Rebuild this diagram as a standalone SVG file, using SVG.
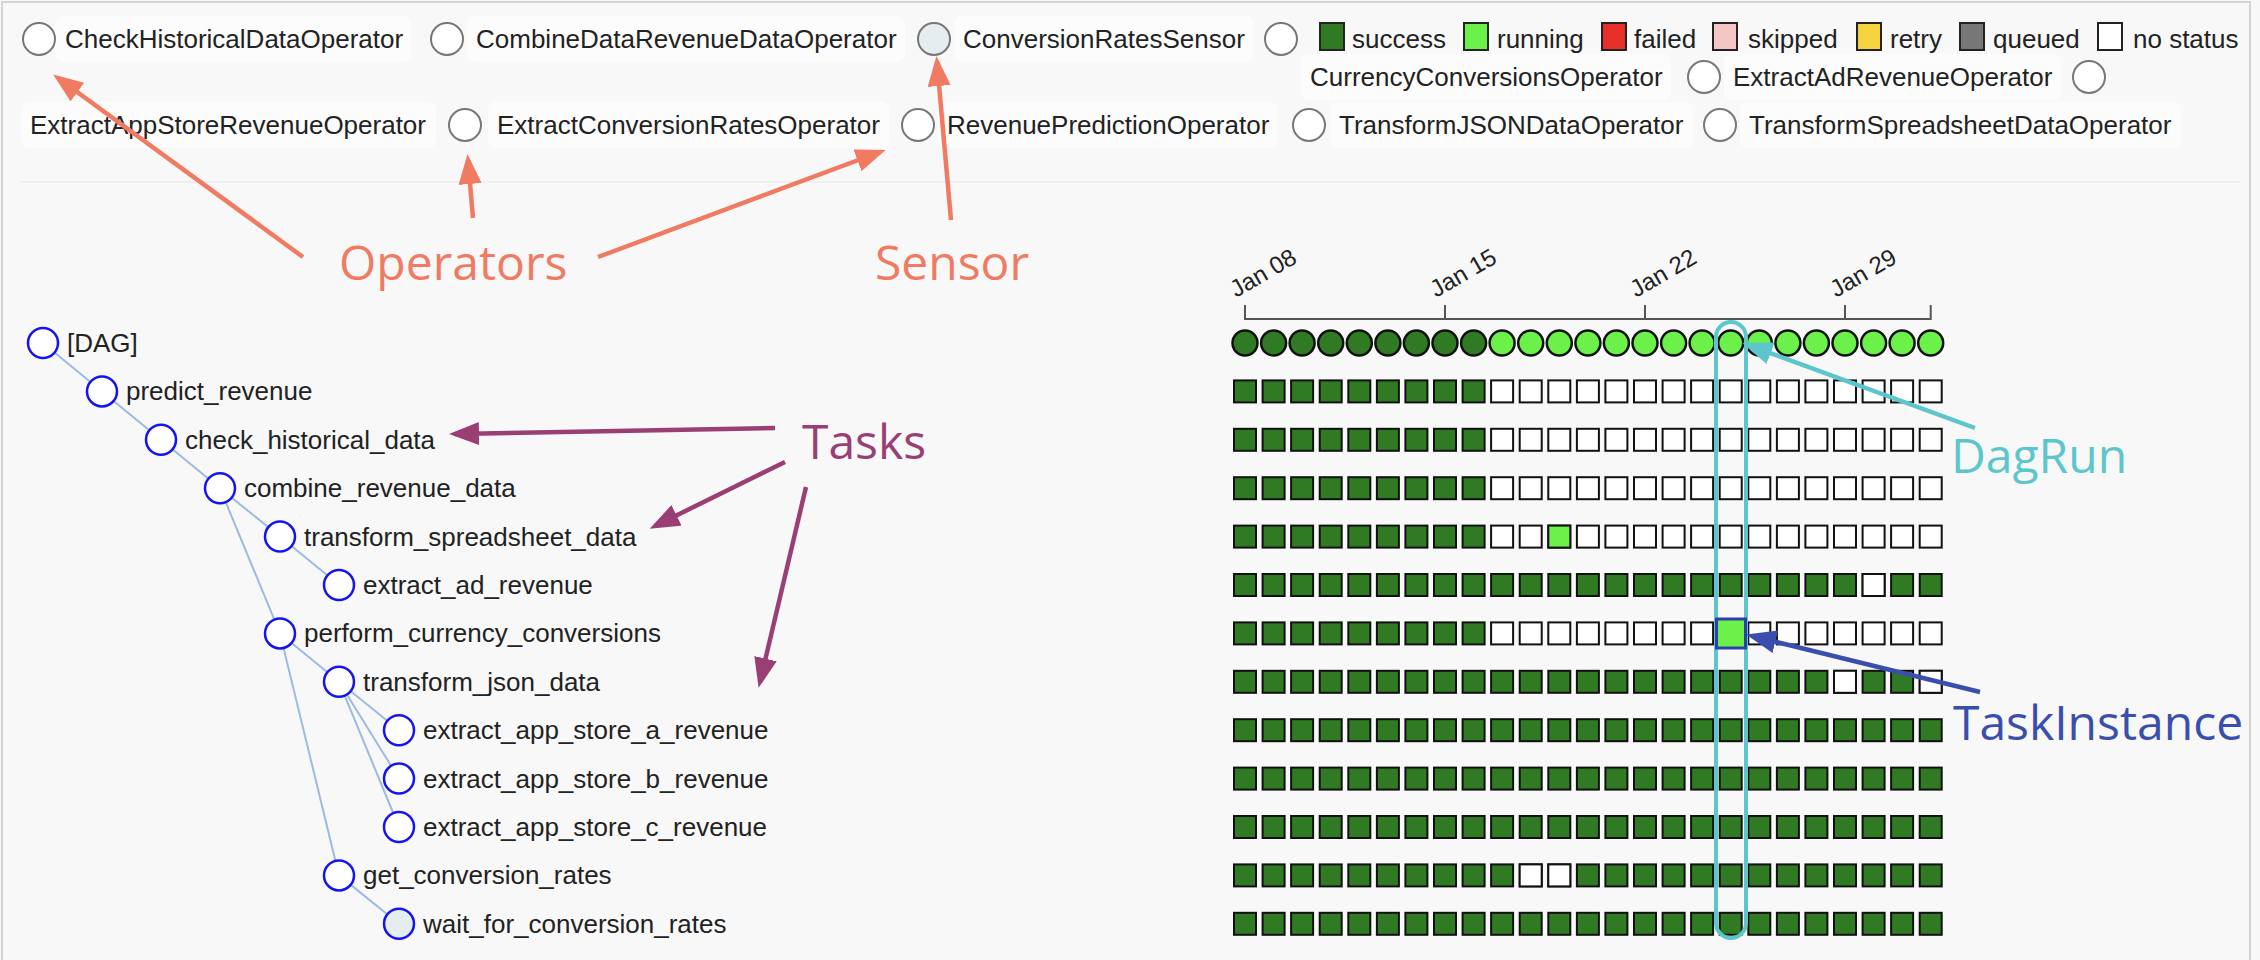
<svg xmlns="http://www.w3.org/2000/svg" xmlns:xlink="http://www.w3.org/1999/xlink" width="2260" height="960" viewBox="0 0 2260 960">
<style>
.t{font-family:"Liberation Sans",Arial,Helvetica,sans-serif;font-size:26px;fill:#222}
.ax{font-family:"Liberation Sans",Arial,Helvetica,sans-serif;font-size:24px;fill:#222}
.ann{font-family:"Open Sans","Noto Sans",sans-serif;font-size:48px}
.box{fill:#fcfcfc}
.op{fill:#fff;stroke:#777;stroke-width:2}
.sens{fill:#e6edf0}
.lg{stroke:#222;stroke-width:2}
.tn{fill:#fff;stroke:#1414f0;stroke-width:2.5}
.tl{stroke:#9bbbe0;stroke-width:2;fill:none}
.cell{stroke:#111;stroke-width:2}
.ok{fill:#2f7a22}
.run{fill:#6cf04a}
.no{fill:#fff}
.dr{stroke:#111;stroke-width:2.5}
.arr{fill:none;stroke-width:4.5}
</style>
<defs>
<marker id="mO" viewBox="0 0 10 10" markerUnits="userSpaceOnUse" markerWidth="30" markerHeight="23" refX="8" refY="5" orient="auto" preserveAspectRatio="none"><path d="M0,0 L10,5 L0,10 z" fill="#f07a62"/></marker>
<marker id="mT" viewBox="0 0 10 10" markerUnits="userSpaceOnUse" markerWidth="30" markerHeight="23" refX="8" refY="5" orient="auto" preserveAspectRatio="none"><path d="M0,0 L10,5 L0,10 z" fill="#9a3f74"/></marker>
<marker id="mD" viewBox="0 0 10 10" markerUnits="userSpaceOnUse" markerWidth="30" markerHeight="23" refX="8" refY="5" orient="auto" preserveAspectRatio="none"><path d="M0,0 L10,5 L0,10 z" fill="#5cc6cc"/></marker>
<marker id="mI" viewBox="0 0 10 10" markerUnits="userSpaceOnUse" markerWidth="30" markerHeight="23" refX="8" refY="5" orient="auto" preserveAspectRatio="none"><path d="M0,0 L10,5 L0,10 z" fill="#3a4fad"/></marker>
<g id="colsA">
<rect class="cell" x="1234" y="0" width="22" height="22"/><rect class="cell" x="1262.6" y="0" width="22" height="22"/><rect class="cell" x="1291.1" y="0" width="22" height="22"/><rect class="cell" x="1319.7" y="0" width="22" height="22"/><rect class="cell" x="1348.3" y="0" width="22" height="22"/><rect class="cell" x="1376.9" y="0" width="22" height="22"/><rect class="cell" x="1405.4" y="0" width="22" height="22"/><rect class="cell" x="1434" y="0" width="22" height="22"/><rect class="cell" x="1462.6" y="0" width="22" height="22"/>
</g>
<g id="colsB">
<rect class="cell" x="1491.1" y="0" width="22" height="22"/><rect class="cell" x="1519.7" y="0" width="22" height="22"/><rect class="cell" x="1548.3" y="0" width="22" height="22"/><rect class="cell" x="1576.9" y="0" width="22" height="22"/><rect class="cell" x="1605.4" y="0" width="22" height="22"/><rect class="cell" x="1634" y="0" width="22" height="22"/><rect class="cell" x="1662.6" y="0" width="22" height="22"/><rect class="cell" x="1691.1" y="0" width="22" height="22"/><rect class="cell" x="1719.7" y="0" width="22" height="22"/><rect class="cell" x="1748.3" y="0" width="22" height="22"/><rect class="cell" x="1776.9" y="0" width="22" height="22"/><rect class="cell" x="1805.4" y="0" width="22" height="22"/><rect class="cell" x="1834" y="0" width="22" height="22"/><rect class="cell" x="1862.6" y="0" width="22" height="22"/><rect class="cell" x="1891.1" y="0" width="22" height="22"/><rect class="cell" x="1919.7" y="0" width="22" height="22"/>
</g>
</defs>

<rect x="0" y="0" width="2260" height="960" fill="#f8f8f8"/>
<path d="M2,960 V2 H2250 V960" fill="none" stroke="#d4d4d4" stroke-width="2"/>
<line x1="20" y1="182" x2="2240" y2="182" stroke="#f0f0f0" stroke-width="2"/>

<!-- operator legend -->
<g id="op-check"><rect class="box" x="55" y="16" width="356" height="46" rx="8"/><circle class="op" cx="39" cy="39" r="16"/><text class="t" x="65" y="48">CheckHistoricalDataOperator</text></g>
<g id="op-combine"><rect class="box" x="467" y="16" width="438" height="46" rx="8"/><circle class="op" cx="447" cy="39" r="16"/><text class="t" x="476" y="48">CombineDataRevenueDataOperator</text></g>
<g id="op-sensor"><rect class="box" x="954" y="16" width="300" height="46" rx="8"/><circle class="op sens" cx="934" cy="39" r="16"/><text class="t" x="963" y="48">ConversionRatesSensor</text></g>
<g id="op-currency"><rect class="box" x="1301" y="54" width="370" height="46" rx="8"/><circle class="op" cx="1281" cy="39" r="16"/><text class="t" x="1310" y="86">CurrencyConversionsOperator</text></g>
<g id="op-extractad"><rect class="box" x="1724" y="54" width="337" height="46" rx="8"/><circle class="op" cx="1704" cy="77" r="16"/><text class="t" x="1733" y="86">ExtractAdRevenueOperator</text></g>
<g id="op-extractapp"><rect class="box" x="22" y="102" width="414" height="46" rx="8"/><circle class="op" cx="2089" cy="77" r="16"/><text class="t" x="30" y="134">ExtractAppStoreRevenueOperator</text></g>
<g id="op-extractconv"><rect class="box" x="488" y="102" width="401" height="46" rx="8"/><circle class="op" cx="465" cy="125" r="16"/><text class="t" x="497" y="134">ExtractConversionRatesOperator</text></g>
<g id="op-revpred"><rect class="box" x="938" y="102" width="340" height="46" rx="8"/><circle class="op" cx="918" cy="125" r="16"/><text class="t" x="947" y="134">RevenuePredictionOperator</text></g>
<g id="op-tjson"><rect class="box" x="1330" y="102" width="363" height="46" rx="8"/><circle class="op" cx="1309" cy="125" r="16"/><text class="t" x="1339" y="134">TransformJSONDataOperator</text></g>
<g id="op-tspread"><rect class="box" x="1740" y="102" width="441" height="46" rx="8"/><circle class="op" cx="1720" cy="125" r="16"/><text class="t" x="1749" y="134">TransformSpreadsheetDataOperator</text></g>

<!-- status legend -->
<g id="legend-status">
<rect class="lg" x="1320" y="23" width="24" height="27" fill="#2f7a22"/><text class="t" x="1352" y="48">success</text>
<rect class="lg" x="1464" y="23" width="24" height="27" fill="#6cf04a"/><text class="t" x="1497" y="48">running</text>
<rect class="lg" x="1602" y="23" width="24" height="27" fill="#e8302a"/><text class="t" x="1634" y="48">failed</text>
<rect class="lg" x="1713" y="23" width="24" height="27" fill="#f4c6c6"/><text class="t" x="1748" y="48">skipped</text>
<rect class="lg" x="1857" y="23" width="24" height="27" fill="#f5d33f"/><text class="t" x="1890" y="48">retry</text>
<rect class="lg" x="1960" y="23" width="24" height="27" fill="#777"/><text class="t" x="1993" y="48">queued</text>
<rect class="lg" x="2098" y="23" width="24" height="27" fill="#fff"/><text class="t" x="2133" y="48">no status</text>
</g>

<!-- connectors -->
<g id="connectors">
<g id="tree-links" class="tl">
<line x1="43" y1="343" x2="102" y2="391.4"/>
<line x1="102" y1="391.4" x2="161" y2="439.8"/>
<line x1="161" y1="439.8" x2="220" y2="488.2"/>
<line x1="220" y1="488.2" x2="280" y2="536.6"/>
<line x1="220" y1="488.2" x2="280" y2="633.4"/>
<line x1="280" y1="536.6" x2="339" y2="585"/>
<line x1="280" y1="633.4" x2="339" y2="681.8"/>
<line x1="280" y1="633.4" x2="339" y2="875.4"/>
<line x1="339" y1="681.8" x2="399" y2="730.2"/>
<line x1="339" y1="681.8" x2="399" y2="778.6"/>
<line x1="339" y1="681.8" x2="399" y2="827"/>
<line x1="339" y1="875.4" x2="399" y2="923.8"/>
</g>
<g id="ann-arrows">
<line class="arr" stroke="#f07a62" x1="303" y1="257" x2="58" y2="78" marker-end="url(#mO)"/>
<line class="arr" stroke="#f07a62" x1="473" y1="218" x2="468" y2="160" marker-end="url(#mO)"/>
<line class="arr" stroke="#f07a62" x1="598" y1="257" x2="880" y2="152" marker-end="url(#mO)"/>
<line class="arr" stroke="#f07a62" x1="951" y1="220" x2="937" y2="62" marker-end="url(#mO)"/>
<line class="arr" stroke="#9a3f74" x1="775" y1="428" x2="455" y2="434" marker-end="url(#mT)"/>
<line class="arr" stroke="#9a3f74" x1="785" y1="462" x2="655" y2="526" marker-end="url(#mT)"/>
<line class="arr" stroke="#9a3f74" x1="806" y1="487" x2="760" y2="682" marker-end="url(#mT)"/>
</g>
</g>

<!-- tree nodes -->
<g id="n-dag"><circle class="tn" cx="43" cy="343" r="15"/><text class="t" x="67" y="352">[DAG]</text></g>
<g id="n-predict_revenue"><circle class="tn" cx="102" cy="391.4" r="15"/><text class="t" x="126" y="400.4">predict_revenue</text></g>
<g id="n-check_historical_data"><circle class="tn" cx="161" cy="439.8" r="15"/><text class="t" x="185" y="448.8">check_historical_data</text></g>
<g id="n-combine_revenue_data"><circle class="tn" cx="220" cy="488.2" r="15"/><text class="t" x="244" y="497.2">combine_revenue_data</text></g>
<g id="n-transform_spreadsheet_data"><circle class="tn" cx="280" cy="536.6" r="15"/><text class="t" x="304" y="545.6">transform_spreadsheet_data</text></g>
<g id="n-extract_ad_revenue"><circle class="tn" cx="339" cy="585" r="15"/><text class="t" x="363" y="594">extract_ad_revenue</text></g>
<g id="n-perform_currency_conversions"><circle class="tn" cx="280" cy="633.4" r="15"/><text class="t" x="304" y="642.4">perform_currency_conversions</text></g>
<g id="n-transform_json_data"><circle class="tn" cx="339" cy="681.8" r="15"/><text class="t" x="363" y="690.8">transform_json_data</text></g>
<g id="n-extract_app_store_a_revenue"><circle class="tn" cx="399" cy="730.2" r="15"/><text class="t" x="423" y="739.2">extract_app_store_a_revenue</text></g>
<g id="n-extract_app_store_b_revenue"><circle class="tn" cx="399" cy="778.6" r="15"/><text class="t" x="423" y="787.6">extract_app_store_b_revenue</text></g>
<g id="n-extract_app_store_c_revenue"><circle class="tn" cx="399" cy="827" r="15"/><text class="t" x="423" y="836">extract_app_store_c_revenue</text></g>
<g id="n-get_conversion_rates"><circle class="tn" cx="339" cy="875.4" r="15"/><text class="t" x="363" y="884.4">get_conversion_rates</text></g>
<g id="n-wait_for_conversion_rates"><circle class="tn" cx="399" cy="923.8" r="15" style="fill:#e6edf0"/><text class="t" x="423" y="932.8">wait_for_conversion_rates</text></g>

<!-- time axis -->
<g id="axis">
<path d="M1245,305 V319 H1930.7 V305 M1445,305 V319 M1645,305 V319 M1845,305 V319" fill="none" stroke="#555" stroke-width="2"/>
<text class="ax" x="1236" y="298" transform="rotate(-30 1236 298)">Jan 08</text>
<text class="ax" x="1436" y="298" transform="rotate(-30 1436 298)">Jan 15</text>
<text class="ax" x="1636" y="298" transform="rotate(-30 1636 298)">Jan 22</text>
<text class="ax" x="1836" y="298" transform="rotate(-30 1836 298)">Jan 29</text>
</g>

<!-- dag runs -->
<g id="dagruns" class="dr">
<g class="ok"><circle cx="1245" cy="343" r="12.5"/><circle cx="1273.6" cy="343" r="12.5"/><circle cx="1302.1" cy="343" r="12.5"/><circle cx="1330.7" cy="343" r="12.5"/><circle cx="1359.3" cy="343" r="12.5"/><circle cx="1387.9" cy="343" r="12.5"/><circle cx="1416.4" cy="343" r="12.5"/><circle cx="1445" cy="343" r="12.5"/><circle cx="1473.6" cy="343" r="12.5"/></g>
<g class="run"><circle cx="1502.1" cy="343" r="12.5"/><circle cx="1530.7" cy="343" r="12.5"/><circle cx="1559.3" cy="343" r="12.5"/><circle cx="1587.9" cy="343" r="12.5"/><circle cx="1616.4" cy="343" r="12.5"/><circle cx="1645" cy="343" r="12.5"/><circle cx="1673.6" cy="343" r="12.5"/><circle cx="1702.1" cy="343" r="12.5"/><circle cx="1730.7" cy="343" r="12.5"/><circle cx="1759.3" cy="343" r="12.5"/><circle cx="1787.9" cy="343" r="12.5"/><circle cx="1816.4" cy="343" r="12.5"/><circle cx="1845" cy="343" r="12.5"/><circle cx="1873.6" cy="343" r="12.5"/><circle cx="1902.1" cy="343" r="12.5"/><circle cx="1930.7" cy="343" r="12.5"/></g>
</g>

<!-- task instance grid -->
<g id="grid">
<g id="row-predict_revenue"><use href="#colsA" y="380.4" class="ok"/><use href="#colsB" y="380.4" class="no"/></g>
<g id="row-check_historical_data"><use href="#colsA" y="428.8" class="ok"/><use href="#colsB" y="428.8" class="no"/></g>
<g id="row-combine_revenue_data"><use href="#colsA" y="477.2" class="ok"/><use href="#colsB" y="477.2" class="no"/></g>
<g id="row-transform_spreadsheet_data"><use href="#colsA" y="525.6" class="ok"/><use href="#colsB" y="525.6" class="no"/><rect class="cell run" x="1548.3" y="525.6" width="22" height="22"/></g>
<g id="row-extract_ad_revenue"><use href="#colsA" y="574" class="ok"/><use href="#colsB" y="574" class="ok"/><rect class="cell no" x="1862.6" y="574" width="22" height="22"/></g>
<g id="row-perform_currency_conversions"><use href="#colsA" y="622.4" class="ok"/><use href="#colsB" y="622.4" class="no"/></g>
<g id="row-transform_json_data"><use href="#colsA" y="670.8" class="ok"/><use href="#colsB" y="670.8" class="ok"/><rect class="cell no" x="1834" y="670.8" width="22" height="22"/><rect class="cell no" x="1919.7" y="670.8" width="22" height="22"/></g>
<g id="row-extract_app_store_a_revenue"><use href="#colsA" y="719.2" class="ok"/><use href="#colsB" y="719.2" class="ok"/></g>
<g id="row-extract_app_store_b_revenue"><use href="#colsA" y="767.6" class="ok"/><use href="#colsB" y="767.6" class="ok"/></g>
<g id="row-extract_app_store_c_revenue"><use href="#colsA" y="816" class="ok"/><use href="#colsB" y="816" class="ok"/></g>
<g id="row-get_conversion_rates"><use href="#colsA" y="864.4" class="ok"/><use href="#colsB" y="864.4" class="ok"/><rect class="cell no" x="1519.7" y="864.4" width="22" height="22"/><rect class="cell no" x="1548.3" y="864.4" width="22" height="22"/></g>
<g id="row-wait_for_conversion_rates"><use href="#colsA" y="912.8" class="ok"/><use href="#colsB" y="912.8" class="ok"/></g>
</g>

<!-- highlights -->
<g id="dagrun-highlight"><rect x="1716" y="322" width="30" height="616" rx="15" fill="none" stroke="#5cc6cc" stroke-width="4"/></g>
<g id="taskinstance-highlight"><rect x="1716.5" y="619" width="29" height="29" fill="#6cf04a" stroke="#2d3fae" stroke-width="3"/></g>

<g id="connectors-2">
<line class="arr" stroke="#5cc6cc" x1="1975" y1="428" x2="1748" y2="345" marker-end="url(#mD)"/>
<line class="arr" stroke="#3a4fad" x1="1980" y1="692" x2="1752" y2="636" marker-end="url(#mI)"/>
</g>

<!-- annotation labels -->
<g id="label-operators"><text class="ann" x="339" y="280" fill="#f07a62">Operators</text></g>
<g id="label-sensor"><text class="ann" x="875" y="280" fill="#f07a62">Sensor</text></g>
<g id="label-tasks"><text class="ann" x="802" y="459" fill="#9a3f74">Tasks</text></g>
<g id="label-dagrun"><text class="ann" x="1951" y="473" fill="#5cc6cc">DagRun</text></g>
<g id="label-taskinstance"><text class="ann" x="1953" y="740" fill="#3a4fad">TaskInstance</text></g>
</svg>
